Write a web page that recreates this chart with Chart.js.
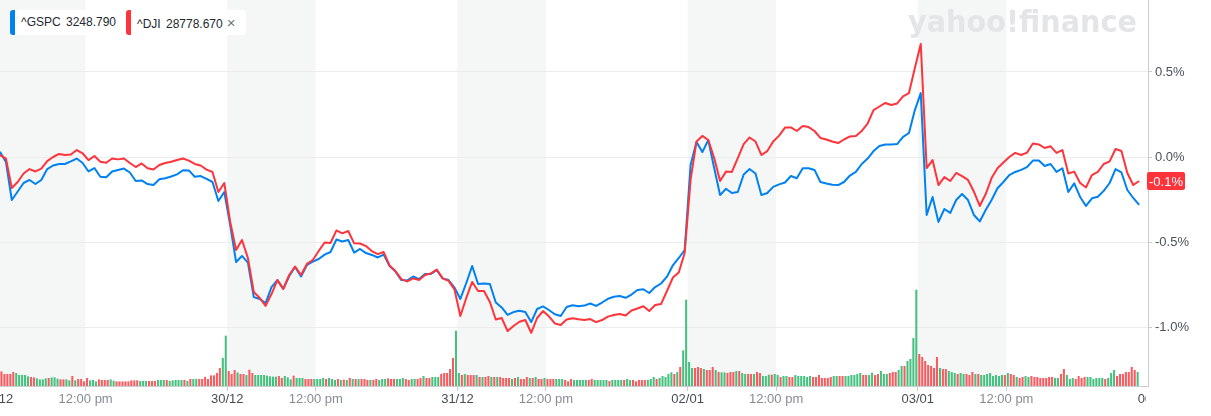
<!DOCTYPE html>
<html>
<head>
<meta charset="utf-8">
<script src="https://cdn.jsdelivr.net/npm/chart.js@4.4.1/dist/chart.umd.min.js"></script>
<style>
    html, body { margin: 0; padding: 0; background: #fff; }
    #wrap { position: relative; width: 1211px; height: 416px; overflow: hidden; }
    #chart { display: block; }
    #legend {
        position: absolute; left: 10px; top: 10px; height: 25px;
        display: flex; align-items: center;
        background: #fff; border-radius: 4px;
        font: 12px "Liberation Sans", Arial, sans-serif; color: #232a31;
        word-spacing: 2px; white-space: nowrap;
    }
    #legend .item {
        height: 25px; line-height: 25px;
        border-left: 5px solid var(--c); border-radius: 3px;
        padding: 0 10px 0 6px;
    }
    #legend .close { color: #6e7780; font-size: 15px; margin-left: 4px; }
</style>
</head>
<body>
<div id="wrap">
    <canvas id="chart" width="1211" height="416"></canvas>
    <div id="legend"></div>
</div>
<script>
    // --- data -------------------------------------------------------------
    // x axis = 5-minute slots since 27/12 09:30 (78 slots per session, 09:30-16:00)
    const days = ['27/12', '30/12', '31/12', '02/01', '03/01'];
    const tickSlots = [0, 30, 78, 108, 156, 186, 234, 264, 312, 342, 392];
    const tickLabels = ['27/12', '12:00 pm', '30/12', '12:00 pm', '31/12', '12:00 pm', '02/01', '12:00 pm', '03/01', '12:00 pm', '06/01'];
    const yTicks = [-1.0, -0.5, 0.0, 0.5];

    const seriesNames = ['^GSPC', '^DJI'];
    const seriesLast = ['3248.790', '28778.670'];

    // % change, one value every 10 min (09:35, 09:45, ...) per session
    const gspcPct = [
        [0.031, -0.029, -0.253, -0.203, -0.153, -0.135, -0.159, -0.135, -0.071, -0.05, -0.041, -0.041, -0.026, -0.009, -0.035, -0.085, -0.065, -0.116, -0.119, -0.085, -0.076, -0.068, -0.091, -0.141, -0.138, -0.159, -0.165, -0.131, -0.125, -0.115, -0.102, -0.078, -0.079, -0.116, -0.112, -0.129, -0.147, -0.259, -0.206],
        [-0.4, -0.618, -0.582, -0.621, -0.824, -0.835, -0.859, -0.765, -0.724, -0.776, -0.7, -0.647, -0.703, -0.635, -0.615, -0.6, -0.574, -0.559, -0.485, -0.497, -0.488, -0.562, -0.541, -0.565, -0.576, -0.591, -0.574, -0.641, -0.674, -0.724, -0.726, -0.703, -0.718, -0.688, -0.688, -0.665, -0.714, -0.724, -0.768],
        [-0.835, -0.741, -0.641, -0.747, -0.744, -0.747, -0.856, -0.885, -0.929, -0.912, -0.904, -0.912, -0.971, -0.894, -0.879, -0.9, -0.925, -0.935, -0.882, -0.872, -0.878, -0.874, -0.862, -0.876, -0.856, -0.834, -0.822, -0.818, -0.828, -0.809, -0.782, -0.778, -0.8, -0.765, -0.744, -0.704, -0.637, -0.594, -0.547],
        [-0.047, 0.088, 0.029, 0.1, -0.065, -0.224, -0.187, -0.212, -0.206, -0.103, -0.071, -0.097, -0.224, -0.212, -0.176, -0.161, -0.15, -0.112, -0.125, -0.066, -0.066, -0.076, -0.147, -0.156, -0.163, -0.165, -0.147, -0.109, -0.088, -0.041, -0.009, 0.035, 0.065, 0.074, 0.074, 0.076, 0.118, 0.141, 0.276],
        [0.376, -0.341, -0.235, -0.382, -0.306, -0.329, -0.253, -0.218, -0.253, -0.341, -0.379, -0.312, -0.253, -0.184, -0.147, -0.106, -0.088, -0.076, -0.059, -0.021, -0.021, -0.053, -0.041, -0.088, -0.066, -0.206, -0.155, -0.235, -0.288, -0.243, -0.234, -0.199, -0.153, -0.071, -0.091, -0.194, -0.241, -0.282]
    ];
    const djiPct = [
        [0.012, -0.009, -0.182, -0.147, -0.097, -0.071, -0.085, -0.068, -0.024, 0, 0.018, 0.012, 0.015, 0.041, 0.022, -0.018, 0.006, -0.028, -0.034, -0.009, -0.014, -0.009, -0.035, -0.059, -0.038, -0.066, -0.074, -0.047, -0.035, -0.028, -0.018, -0.009, -0.021, -0.041, -0.05, -0.074, -0.088, -0.206, -0.153],
        [-0.382, -0.547, -0.488, -0.594, -0.794, -0.829, -0.876, -0.806, -0.724, -0.776, -0.694, -0.644, -0.694, -0.629, -0.606, -0.553, -0.503, -0.506, -0.432, -0.449, -0.435, -0.508, -0.509, -0.524, -0.553, -0.571, -0.559, -0.638, -0.671, -0.718, -0.732, -0.714, -0.724, -0.694, -0.685, -0.662, -0.714, -0.729, -0.779],
        [-0.935, -0.829, -0.735, -0.788, -0.788, -0.853, -0.956, -0.947, -1.024, -0.994, -0.969, -0.959, -1.034, -0.947, -0.906, -0.937, -0.979, -0.988, -0.956, -0.949, -0.955, -0.959, -0.953, -0.971, -0.959, -0.939, -0.929, -0.924, -0.932, -0.903, -0.891, -0.878, -0.906, -0.871, -0.865, -0.788, -0.709, -0.679, -0.565],
        [-0.135, 0.091, 0.124, 0.1, -0.006, -0.141, -0.086, -0.088, -0.006, 0.076, 0.115, 0.091, 0.012, 0.035, 0.091, 0.126, 0.173, 0.174, 0.153, 0.182, 0.176, 0.153, 0.112, 0.103, 0.091, 0.082, 0.103, 0.121, 0.124, 0.153, 0.197, 0.276, 0.297, 0.318, 0.306, 0.315, 0.356, 0.376, 0.524],
        [0.665, -0.065, -0.018, -0.165, -0.118, -0.141, -0.094, -0.112, -0.135, -0.203, -0.288, -0.218, -0.124, -0.066, -0.032, 0, 0.024, 0.012, 0.026, 0.079, 0.074, 0.053, 0.063, 0.024, 0.041, -0.097, -0.086, -0.153, -0.179, -0.106, -0.088, -0.041, -0.026, 0.047, 0.035, -0.094, -0.165, -0.141]
    ];

    // 5-minute volume (millions), one array per session
    const volume = [
        [14, 14.3, 11.7, 11.7, 11.7, 13.7, 12.7, 10.7, 10.7, 10.7, 9.3, 8.7, 8.3, 7.3, 6.3, 6.3, 7.3, 7.7, 8.3, 8.3, 7, 6.3, 6.3, 6.3, 5.3, 9.7, 5.3, 6.7, 6.7, 4.3, 7.7, 5.3, 5.7, 4.3, 6.3, 5.7, 5.7, 5.7, 6.3, 5, 4.3, 4.3, 4.3, 4.3, 4.3, 5.3, 5.3, 5.3, 4.7, 4.7, 4.7, 4.7, 4.7, 4.7, 5.7, 5.7, 5.7, 5.7, 4.7, 5.3, 5.7, 5.7, 5.7, 5.7, 4.7, 6.7, 6.7, 6.7, 6.7, 6.7, 8.7, 6.7, 10.3, 10.3, 12.7, 17.7, 27.7, 50],
        [14.7, 11.7, 15.7, 13.3, 11.7, 11.7, 10.7, 16, 12.7, 10.7, 10.7, 10.7, 10.7, 10, 9.3, 9, 9, 9.7, 7.7, 9.7, 8.3, 6.3, 10, 7.7, 7.7, 7.7, 6.7, 6.7, 6.7, 6.7, 6.7, 6.7, 7.7, 6.7, 7.7, 6.7, 5.7, 6.7, 5.7, 6, 5.7, 7.7, 6.7, 6.7, 6.7, 6.7, 6.7, 5.7, 5.7, 5.7, 6.7, 5.7, 6.7, 6.7, 7.3, 6.7, 6.7, 6.7, 6.7, 7.7, 6.7, 5.7, 6.7, 6.7, 6.7, 7.7, 9.7, 7.7, 7.7, 8.7, 8.7, 8.7, 11.7, 12.7, 12.7, 16.7, 27.7, 55],
        [12.7, 10.7, 11.7, 10.7, 10.7, 10.7, 10.7, 8.7, 8.7, 8.7, 9.7, 8.7, 8.7, 8.7, 8.7, 7.7, 7.7, 7.7, 6.7, 7.7, 8.7, 6.7, 6.7, 8.7, 7.7, 7.7, 8.7, 6.7, 6.7, 7.7, 6.7, 6.7, 6.7, 6.7, 6.7, 6.7, 5.7, 4.3, 6.7, 5.7, 5.7, 5.7, 5.7, 5.7, 5.7, 6.7, 5.7, 5.7, 5.7, 5.7, 5.7, 4.7, 5.7, 5.7, 5.7, 5.7, 5.7, 6.7, 5.7, 5.7, 4.3, 5.7, 5.7, 5.7, 5.7, 6.7, 8.7, 6.7, 7.7, 9.7, 8.7, 11.7, 13.3, 11.7, 13.7, 18.7, 35.3, 86],
        [23.7, 17.7, 17.7, 18.7, 17.7, 16.7, 15.7, 15.7, 18.7, 15.7, 13.7, 13.3, 13.3, 12.7, 13.7, 13.7, 14.7, 14.7, 12.7, 11.7, 11.7, 11.7, 11.7, 13.7, 12.7, 9.7, 9.7, 11, 11, 11.7, 10.7, 8.7, 9.7, 9.7, 8.7, 8.7, 10.7, 9.7, 9.7, 9.7, 8.7, 9.7, 8.7, 8.7, 10.7, 7.7, 7.7, 7.7, 8.7, 9.7, 9.7, 9.7, 9.7, 9.7, 9.7, 10.7, 10.7, 11.7, 12.7, 10.7, 10.7, 10.7, 13, 10.7, 11.7, 14.7, 11.7, 11.7, 12.7, 13.7, 13.7, 15.7, 19.7, 19.7, 24.7, 26.7, 47.7, 96],
        [31.7, 28.7, 24.7, 20.7, 19.7, 17.7, 28.7, 17.7, 16.7, 16.7, 14.7, 13.7, 12.7, 11.7, 12.7, 11.7, 11.7, 10.7, 13.7, 11.7, 11.7, 10.7, 10.7, 11.7, 12.7, 9.7, 10.7, 9.7, 10.7, 10.7, 12.7, 11.7, 10.7, 8.7, 7.7, 8.7, 9.7, 8.7, 9.7, 8.7, 8.7, 7.7, 7.7, 7.7, 8.7, 8.7, 7.7, 7.7, 11.7, 16.7, 10.7, 6.7, 7.7, 6.7, 9.7, 7.7, 8.7, 8.7, 8.7, 6.7, 7.7, 7.7, 7.7, 6.7, 7.7, 12.7, 15.7, 9.7, 11.7, 11.7, 13.7, 13.7, 18.7, 15.7, 13.7]
    ];
    // g = up bar, r = down bar
    const volDir = [
        'rrrrrrgggggrrggggrgggrrggrgrrrrgggrrrrggrrrrrrrrgggrrrgggrgggggrgrggrrrrrrrrgg',
        'rrrgrrgrrggggggggrrgggrgggrrrggggrgggrgrgrgrgrrrgrrggg' + 'rrrgggrrggrrgrrgggrrrrrg',
        'grgrrrgrgrrgrgrrrrgrgrrrgrgrrgrrrgggrrrgggggrrgggg' + 'g' + 'rggggrggrrrrrgggrgggggrgrgg',
        'ggrrrgrrrgrggrrrgrggrrgrrgg' + 'grggrggrrggggg' + 'gr' + 'rrrrrrggrrggggggrrggrrgggrrrggrgggg',
        'rrrrrrrgrrgggrggrrrgrggggggggrgrrgrrggrrrrrrrrggrrgggrrrrggggggrgggrrrrrrrg'
    ];

    // --- build points -----------------------------------------------------
    const SLOTS = 78;
    const BLUE = '#0081f2', RED = '#ff333a';
    const VOL_UP = '#45c07e', VOL_DOWN = '#fb5b5f';
    const FONT = '"Liberation Sans", Arial, sans-serif';

    function toPoints(series) {
        const pts = [];
        series.forEach((day, d) => day.forEach((v, k) => pts.push({ x: SLOTS * d + 2 * k + 1, y: v })));
        return pts;
    }
    const gspcPoints = toPoints(gspcPct);
    const djiPoints = toPoints(djiPct);

    const volPoints = [], volColors = [];
    volume.forEach((day, d) => day.forEach((v, i) => {
        volPoints.push({ x: SLOTS * d + i + 0.5, y: v });
        volColors.push(volDir[d][i] === 'g' ? VOL_UP : VOL_DOWN);
    }));

    // legend
    document.getElementById('legend').innerHTML = seriesNames.map((n, i) =>
        `<span class="item" style="--c:${i === 0 ? BLUE : RED}">${n} ${seriesLast[i]}${i === 1 ? '<span class="close">×</span>' : ''}</span>`
    ).join('');

    // morning shading, watermark, last value tag
    const backdrop = {
        id: 'backdrop',
        beforeDraw(chart) {
            const { ctx, chartArea: a, scales: { x } } = chart;
            ctx.save();
            ctx.fillStyle = '#f5f7f7';
            days.forEach((d, i) => {
                const x0 = Math.max(a.left, x.getPixelForValue(SLOTS * i));
                const x1 = x.getPixelForValue(SLOTS * i + 30);
                ctx.fillRect(x0, a.top, x1 - x0, a.bottom - a.top);
            });
            ctx.font = 'bold 31px "DejaVu Sans", sans-serif';
            const text = 'yahoo!finance';
            const w = ctx.measureText(text).width;
            ctx.fillStyle = '#e3e5e7';
            ctx.translate(a.right - 11, 32);
            ctx.scale(229 / w, 1);
            ctx.textAlign = 'right';
            ctx.fillText(text, 0, 0);
            ctx.restore();
        },
        afterDraw(chart) {
            const { ctx, chartArea: a, scales: { y } } = chart;
            ctx.save();
            // the last date label is cut at the price axis
            ctx.fillStyle = '#fff';
            ctx.fillRect(a.right - 2, a.bottom + 1, 80, 40);
            const lastDay = djiPct[djiPct.length - 1];
            const last = lastDay[lastDay.length - 1];
            const py = y.getPixelForValue(last);
            ctx.fillStyle = RED;
            ctx.beginPath();
            ctx.roundRect(a.right - 1, py - 9, 38, 18, 2);
            ctx.fill();
            ctx.fillStyle = '#fff';
            ctx.font = '13px ' + FONT;
            ctx.textAlign = 'center';
            ctx.textBaseline = 'middle';
            ctx.fillText(last.toFixed(1) + '%', a.right + 18, py + 1);
            ctx.restore();
        }
    };

    function noPad(s) {
        s.paddingLeft = s.paddingRight = s.paddingTop = s.paddingBottom = 0;
    }

    new Chart(document.getElementById('chart'), {
        type: 'line',
        data: {
            datasets: [
                { label: seriesNames[1], data: djiPoints, borderColor: RED, borderWidth: 2, pointRadius: 0, borderJoinStyle: 'round', order: 0, yAxisID: 'y' },
                { label: seriesNames[0], data: gspcPoints, borderColor: BLUE, borderWidth: 2, pointRadius: 0, borderJoinStyle: 'round', order: 1, yAxisID: 'y' },
                { type: 'bar', label: 'Volume', data: volPoints, backgroundColor: volColors, barThickness: 1.4, order: 2, yAxisID: 'y1' }
            ]
        },
        options: {
            responsive: false,
            animation: false,
            layout: { padding: 0, autoPadding: false },
            plugins: { legend: { display: false }, tooltip: { enabled: false } },
            scales: {
                x: {
                    type: 'linear', min: 1, max: 390, offset: false,
                    afterBuildTicks: s => { s.ticks = tickSlots.map(v => ({ value: v })); },
                    afterFit: s => { s.height = 30; noPad(s); },
                    ticks: {
                        autoSkip: false, maxRotation: 0, padding: 1,
                        callback: v => tickLabels[tickSlots.indexOf(v)],
                        color: c => tickLabels[tickSlots.indexOf(c.tick.value)].includes('/') ? '#464e56' : '#868d94',
                        font: { family: FONT, size: 13 }
                    },
                    grid: { drawOnChartArea: false, drawTicks: true, tickLength: 5, color: '#c9cdd0', offset: false },
                    border: { color: '#c9cdd0' }
                },
                y: {
                    position: 'right', min: -1.347, max: 0.9235,
                    afterBuildTicks: s => { s.ticks = yTicks.map(v => ({ value: v })); },
                    afterFit: s => { s.width = 63; noPad(s); },
                    ticks: {
                        padding: 3,
                        callback: v => v.toFixed(1) + '%',
                        color: '#4a525a',
                        font: { family: FONT, size: 13 }
                    },
                    grid: { color: '#ececec', tickLength: 4, tickColor: '#c9cdd0' },
                    border: { color: '#c9cdd0' }
                },
                y1: { display: false, min: 0, max: 386, afterFit: noPad }
            }
        },
        plugins: [backdrop]
    });
</script>
</body>
</html>
